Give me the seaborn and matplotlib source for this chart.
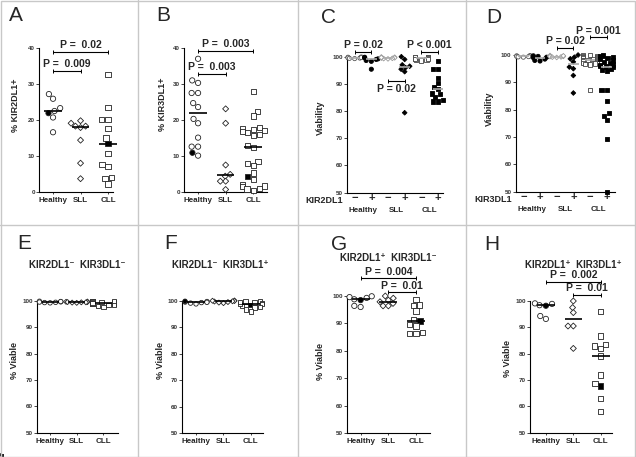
import warnings
import numpy as np
import pandas as pd
import seaborn as sns
import matplotlib.pyplot as plt
from matplotlib.lines import Line2D

warnings.filterwarnings('ignore')

W, H = 636, 457

# ---------------------------------------------------- data ----------------------------------------------------
cats = ['Healthy', 'SLL', 'CLL']

# A: % KIR2DL1+
a_healthy = [27.2, 25.9, 23.3, 22.5, 21.9, 20.7, 16.6]
a_sll = [19.8, 19.1, 18.3, 18.3, 17.9, 14.4, 8.0, 3.7]
a_cll = [32.6, 23.5, 20.2, 20.2, 17.7, 15.0, 13.4, 10.7, 7.6, 7.0, 4.0, 3.7, 2.2]
a_filled = {'Healthy': [4], 'SLL': [], 'CLL': [6]}

# B: % KIR3DL1+
b_healthy = [37.0, 31.0, 30.3, 27.5, 27.5, 24.7, 23.6, 20.3, 19.1, 15.1, 12.6, 12.6, 10.9, 10.1]
b_sll = [23.1, 19.1, 7.5, 4.9, 4.4, 3.0, 3.0, 0.7]
b_cll = [27.9, 22.3, 21.1, 18.0, 17.7, 17.4, 17.0, 16.8, 16.5, 16.0, 15.6, 13.0, 12.4,
         8.4, 8.0, 7.3, 5.3, 4.3, 3.5, 2.0, 1.7, 1.5, 1.0, 0.8, 0.5]
b_filled = {'Healthy': [12], 'SLL': [], 'CLL': [17]}

# C: viability, KIR2DL1- / KIR2DL1+
c_h_neg = [99.8, 99.6, 99.5, 99.3, 99.9, 99.4, 99.7]
c_h_pos = [99.6, 99.2, 99.0, 98.6, 98.3, 99.8, 95.4]
c_s_neg = [99.8, 99.5, 99.3, 99.6, 99.9, 99.2, 99.4, 99.7]
c_s_pos = [100.0, 99.0, 97.0, 96.5, 96.0, 95.4, 94.5, 79.4]
c_c_neg = [99.9, 99.7, 99.5, 99.3, 99.0, 98.8, 99.6, 99.8, 100.0, 99.2, 99.4, 98.6, 99.1]
c_c_pos = [98.4, 95.4, 95.4, 92.1, 90.2, 89.0, 88.0, 86.5, 86.2, 85.1, 84.0, 83.5, 83.5]

# D: viability, KIR3DL1- / KIR3DL1+
d_h_neg = [99.8, 99.6, 99.4, 99.2, 99.7, 99.5, 99.3]
d_h_pos = [99.7, 99.5, 99.2, 99.0, 98.5, 98.0, 97.8]
d_s_neg = [99.8, 99.6, 99.4, 99.5, 99.3, 99.7, 99.2, 99.1]
d_s_pos = [100.0, 99.2, 98.6, 97.5, 95.6, 95.0, 92.5, 86.1]
d_c_neg = [100.0, 99.8, 99.6, 99.5, 99.3, 99.2, 99.1, 99.0, 98.8, 98.6, 98.4, 98.3,
           98.2, 98.0, 98.0, 97.8, 97.6, 97.5, 97.2, 97.0, 96.9, 96.8, 96.5, 87.2]
d_c_pos = [99.8, 99.5, 99.2, 98.8, 98.5, 98.0, 97.5, 97.0, 96.5, 96.2, 96.0, 95.8,
           95.5, 95.0, 94.5, 94.0, 87.2, 87.2, 83.3, 78.7, 77.8, 76.2, 69.2, 50.0]
pm_labels = ['\u2212', '+'] * 3

# E-H: % viable by phenotype
e_healthy = [99.9, 99.7, 99.5, 99.3, 99.6, 99.8, 99.4]
e_sll = [99.8, 99.6, 99.4, 99.5, 99.7, 99.3, 99.5, 99.6]
e_cll = [100.0, 99.8, 99.6, 99.4, 99.2, 99.0, 98.8, 98.5, 98.2, 97.8, 99.7, 99.5,
         99.1, 98.6, 99.9, 99.3]
e_filled = {'Healthy': [], 'SLL': [], 'CLL': []}

f_healthy = [99.8, 99.6, 99.4, 99.2, 99.9, 99.5, 98.9]
f_sll = [100.2, 100.0, 99.8, 99.6, 100.1, 99.4, 99.2, 99.9]
f_cll = [99.8, 99.5, 99.9, 99.2, 98.8, 98.5, 98.2, 97.5, 97.8, 96.0, 96.8, 98.9, 99.6]
f_filled = {'Healthy': [4], 'SLL': [], 'CLL': [5]}

g_healthy = [99.9, 99.6, 99.3, 98.8, 98.5, 96.4, 96.0]
g_sll = [100.0, 99.2, 98.5, 97.9, 97.3, 96.4, 96.4]
g_cll = [98.8, 96.7, 96.5, 94.5, 91.5, 90.9, 89.5, 89.1, 86.7, 86.4, 86.4]
g_filled = {'Healthy': [4], 'SLL': [], 'CLL': [5]}

h_healthy = [99.1, 98.9, 98.4, 98.2, 94.3, 93.2]
h_sll = [100.0, 97.5, 95.6, 90.5, 90.5, 82.0]
h_cll = [96.0, 86.7, 83.5, 82.9, 82.0, 79.1, 71.9, 68.7, 67.7, 63.0, 58.0]
h_filled = {'Healthy': [3], 'SLL': [], 'CLL': [8]}

markers = {'Healthy': 'o', 'SLL': 'D', 'CLL': 's'}

# ---------------------------------------------------- helpers ----------------------------------------------------
sns.set_style('ticks')
plt.rcParams['font.family'] = ['Liberation Sans', 'DejaVu Sans']

fig = plt.figure(figsize=(W / 100, H / 100), dpi=100)


def make_ax(left, top, right, bottom):
    return fig.add_axes([left / W, 1 - bottom / H, (right - left) / W, (bottom - top) / H])


def dot_panel(ax, groups, order, size=4.2, line_color='black'):
    # groups: list of (label, values, marker, filled index list, edge color)
    rows = []
    for label, vals, mk, filled, edge in groups:
        for i, v in enumerate(vals):
            rows.append((label, v, 'filled' if i in filled else 'open'))
    df = pd.DataFrame(rows, columns=['group', 'value', 'fill'])
    for label, vals, mk, filled, edge in groups:
        sub = df[df.group == label]
        sns.swarmplot(data=sub, x='group', y='value', order=order, hue='fill',
                      hue_order=['open', 'filled'], palette={'open': 'white', 'filled': 'black'},
                      marker=mk, size=size * (0.8 if mk == 'D' else 1), edgecolor=edge,
                      linewidth=0.6, legend=False, ax=ax, zorder=3)
        i = order.index(label)
        ax.hlines(np.median(vals), i - 0.32, i + 0.32, color=line_color, lw=1.2, zorder=4)
    for c in ax.collections:
        c.set_clip_on(False)


def style_ax(ax, xlim, ylim, yticks, ylabel, ylab_xy):
    ax.set_xlim(*xlim)
    ax.set_ylim(*ylim)
    ax.set_yticks(yticks)
    ax.set_xlabel('')
    ax.set_ylabel(ylabel, fontsize=6.5, fontweight='bold')
    ax.yaxis.set_label_coords(*ylab_xy)
    sns.despine(ax=ax)
    for s in ['left', 'bottom']:
        ax.spines[s].set_linewidth(0.8)
        ax.spines[s].set_color('black')
    ax.tick_params(axis='y', length=2, width=0.6, pad=1, labelsize=4.5, labelcolor='#333')
    ax.tick_params(axis='x', length=1.5, width=0.6, pad=2, labelsize=5.8)
    for lbl in ax.get_xticklabels() + ax.get_yticklabels():
        lbl.set_fontweight('bold')


def bracket(ax, x1, x2, y, text, below=False):
    ax.plot([x1, x2], [y, y], color='black', lw=0.8, marker='|', markersize=3,
            mew=0.7, clip_on=False, zorder=5)
    ax.annotate(text, xy=((x1 + x2) / 2, y), xytext=(0, -2 if below else 1.2),
                textcoords='offset points', ha='center', va='top' if below else 'bottom',
                fontsize=7.5, fontweight='bold', annotation_clip=False)


def three_groups(h, s, c, filled):
    vals = {'Healthy': h, 'SLL': s, 'CLL': c}
    return [(k, vals[k], markers[k], filled[k], '#222222') for k in cats]


# ---------------------------------------------------- panels A, B ----------------------------------------------------
ax = make_ax(39, 48, 113, 192)
dot_panel(ax, three_groups(a_healthy, a_sll, a_cll, a_filled), cats, size=3.8)
style_ax(ax, (-0.51, 2.18), (0, 40), range(0, 41, 10), '% KIR2DL1+', (-0.26, 0.6))
bracket(ax, 0, 2, 38.9, 'P =  0.02')
bracket(ax, 0, 1, 33.6, 'P =  0.009')

ax = make_ax(184, 48, 267, 192)
dot_panel(ax, three_groups(b_healthy, b_sll, b_cll, b_filled), cats, size=3.8)
style_ax(ax, (-0.51, 2.5), (0, 40), range(0, 41, 10), '% KIR3DL1+', (-0.21, 0.61))
bracket(ax, 0, 2, 39.3, 'P =  0.003')
bracket(ax, 0, 1, 32.9, 'P =  0.003')

# ---------------------------------------------------- panels C, D ----------------------------------------------------
six = ['H-', 'H+', 'S-', 'S+', 'C-', 'C+']


def six_groups(hn, hp, sn, sp, cn, cp):
    return [('H-', hn, 'o', [], '#555555'), ('H+', hp, 'o', list(range(len(hp))), 'black'),
            ('S-', sn, 'D', [], '#999999'), ('S+', sp, 'D', list(range(len(sp))), 'black'),
            ('C-', cn, 's', [], '#444444'), ('C+', cp, 's', list(range(len(cp))), 'black')]


def pm_axis(ax, marker_name, name_x):
    ax.set_xticks(range(6))
    ax.set_xticklabels(pm_labels, fontsize=8, fontweight='bold')
    ax.tick_params(axis='x', length=0, pad=0.5)
    tr = ax.get_xaxis_transform()
    for i, name in enumerate(cats):
        ax.text(2 * i + 0.5, -0.13, name, transform=tr, ha='center', va='center',
                fontsize=5.8, fontweight='bold')
    ax.text(name_x, -0.06, marker_name, transform=ax.transAxes, ha='right', va='center',
            fontsize=6.5, fontweight='bold')


ax = make_ax(347, 56.7, 443, 192.7)
dot_panel(ax, six_groups(c_h_neg, c_h_pos, c_s_neg, c_s_pos, c_c_neg, c_c_pos), six,
          size=3.0, line_color='#aaaaaa')
style_ax(ax, (-0.46, 5.3), (50, 100), range(50, 101, 10), 'Viability', (-0.23, 0.55))
pm_axis(ax, 'KIR2DL1', -0.04)
bracket(ax, 0, 1, 101.8, 'P = 0.02')
bracket(ax, 4, 5, 101.8, 'P < 0.001')
bracket(ax, 2, 3, 91.0, 'P = 0.02', below=True)

ax = make_ax(515.7, 55, 615, 191.7)
dot_panel(ax, six_groups(d_h_neg, d_h_pos, d_s_neg, d_s_pos, d_c_neg, d_c_pos), six,
          size=3.0, line_color='#aaaaaa')
style_ax(ax, (-0.46, 5.5), (50, 100), range(50, 101, 10), 'Viability', (-0.22, 0.61))
pm_axis(ax, 'KIR3DL1', -0.04)
bracket(ax, 2, 3, 102.5, 'P = 0.02')
bracket(ax, 4, 5, 106.5, 'P = 0.001')

# ---------------------------------------------------- panels E-H ----------------------------------------------------
bottom = [
    ('KIR2DL1\u207b  KIR3DL1\u207b', (37.3, 301, 118.3, 432.7), (-0.48, 2.56),
     three_groups(e_healthy, e_sll, e_cll, e_filled), (-0.23, 0.55), (0.49, 1.27), []),
    ('KIR2DL1\u207b  KIR3DL1\u207a', (182.3, 301, 263, 433.3), (-0.5, 2.44),
     three_groups(f_healthy, f_sll, f_cll, f_filled), (-0.21, 0.55), (0.47, 1.27), []),
    ('KIR2DL1\u207a  KIR3DL1\u207b', (347.3, 296, 430, 433.3), (-0.48, 2.5),
     three_groups(g_healthy, g_sll, g_cll, g_filled), (-0.27, 0.52), (0.49, 1.28),
     [(0, 2, 106.4, 'P =  0.004'), (1, 2, 101.3, 'P =  0.01')]),
    ('KIR2DL1\u207a  KIR3DL1\u207a', (530, 301, 611.7, 432.7), (-0.58, 2.4),
     three_groups(h_healthy, h_sll, h_cll, h_filled), (-0.22, 0.56), (0.53, 1.27),
     [(0, 2, 107.3, 'P =  0.002'), (1, 2, 102.3, 'P =  0.01')]),
]
for title, box, xlim, groups, ylab_xy, title_xy, brs in bottom:
    ax = make_ax(*box)
    dot_panel(ax, groups, cats, size=3.8 if brs else 3.2)
    style_ax(ax, xlim, (50, 100), range(50, 101, 10), '% Viable', ylab_xy)
    ax.text(*title_xy, title, transform=ax.transAxes, ha='center', va='center',
            fontsize=7, fontweight='bold')
    for x1, x2, y, t in brs:
        bracket(ax, x1, x2, y, t)

# ---------------------------------------------------- frame and letters ----------------------------------------------------
grid_col = '#c8c8c8'
for x in [138, 298, 466]:
    fig.add_artist(Line2D([x / W, x / W], [0, 1], color=grid_col, lw=1))
fig.add_artist(Line2D([0, 1], [1 - 225 / H, 1 - 225 / H], color=grid_col, lw=1))
fig.add_artist(plt.Rectangle((0.5 / W, 0.5 / H), 1 - 1.5 / W, 1 - 1.5 / H, fill=False,
                             edgecolor=grid_col, lw=1))

letters = [('A', 9, 6), ('B', 156, 6), ('C', 321, 8), ('D', 486, 8),
           ('E', 17, 234), ('F', 164, 234), ('G', 331, 235), ('H', 484, 235)]
for t, x, y in letters:
    fig.text(x / W, 1 - y / H, t, fontsize=15, ha='left', va='top')

plt.savefig('out.png', dpi=100)
